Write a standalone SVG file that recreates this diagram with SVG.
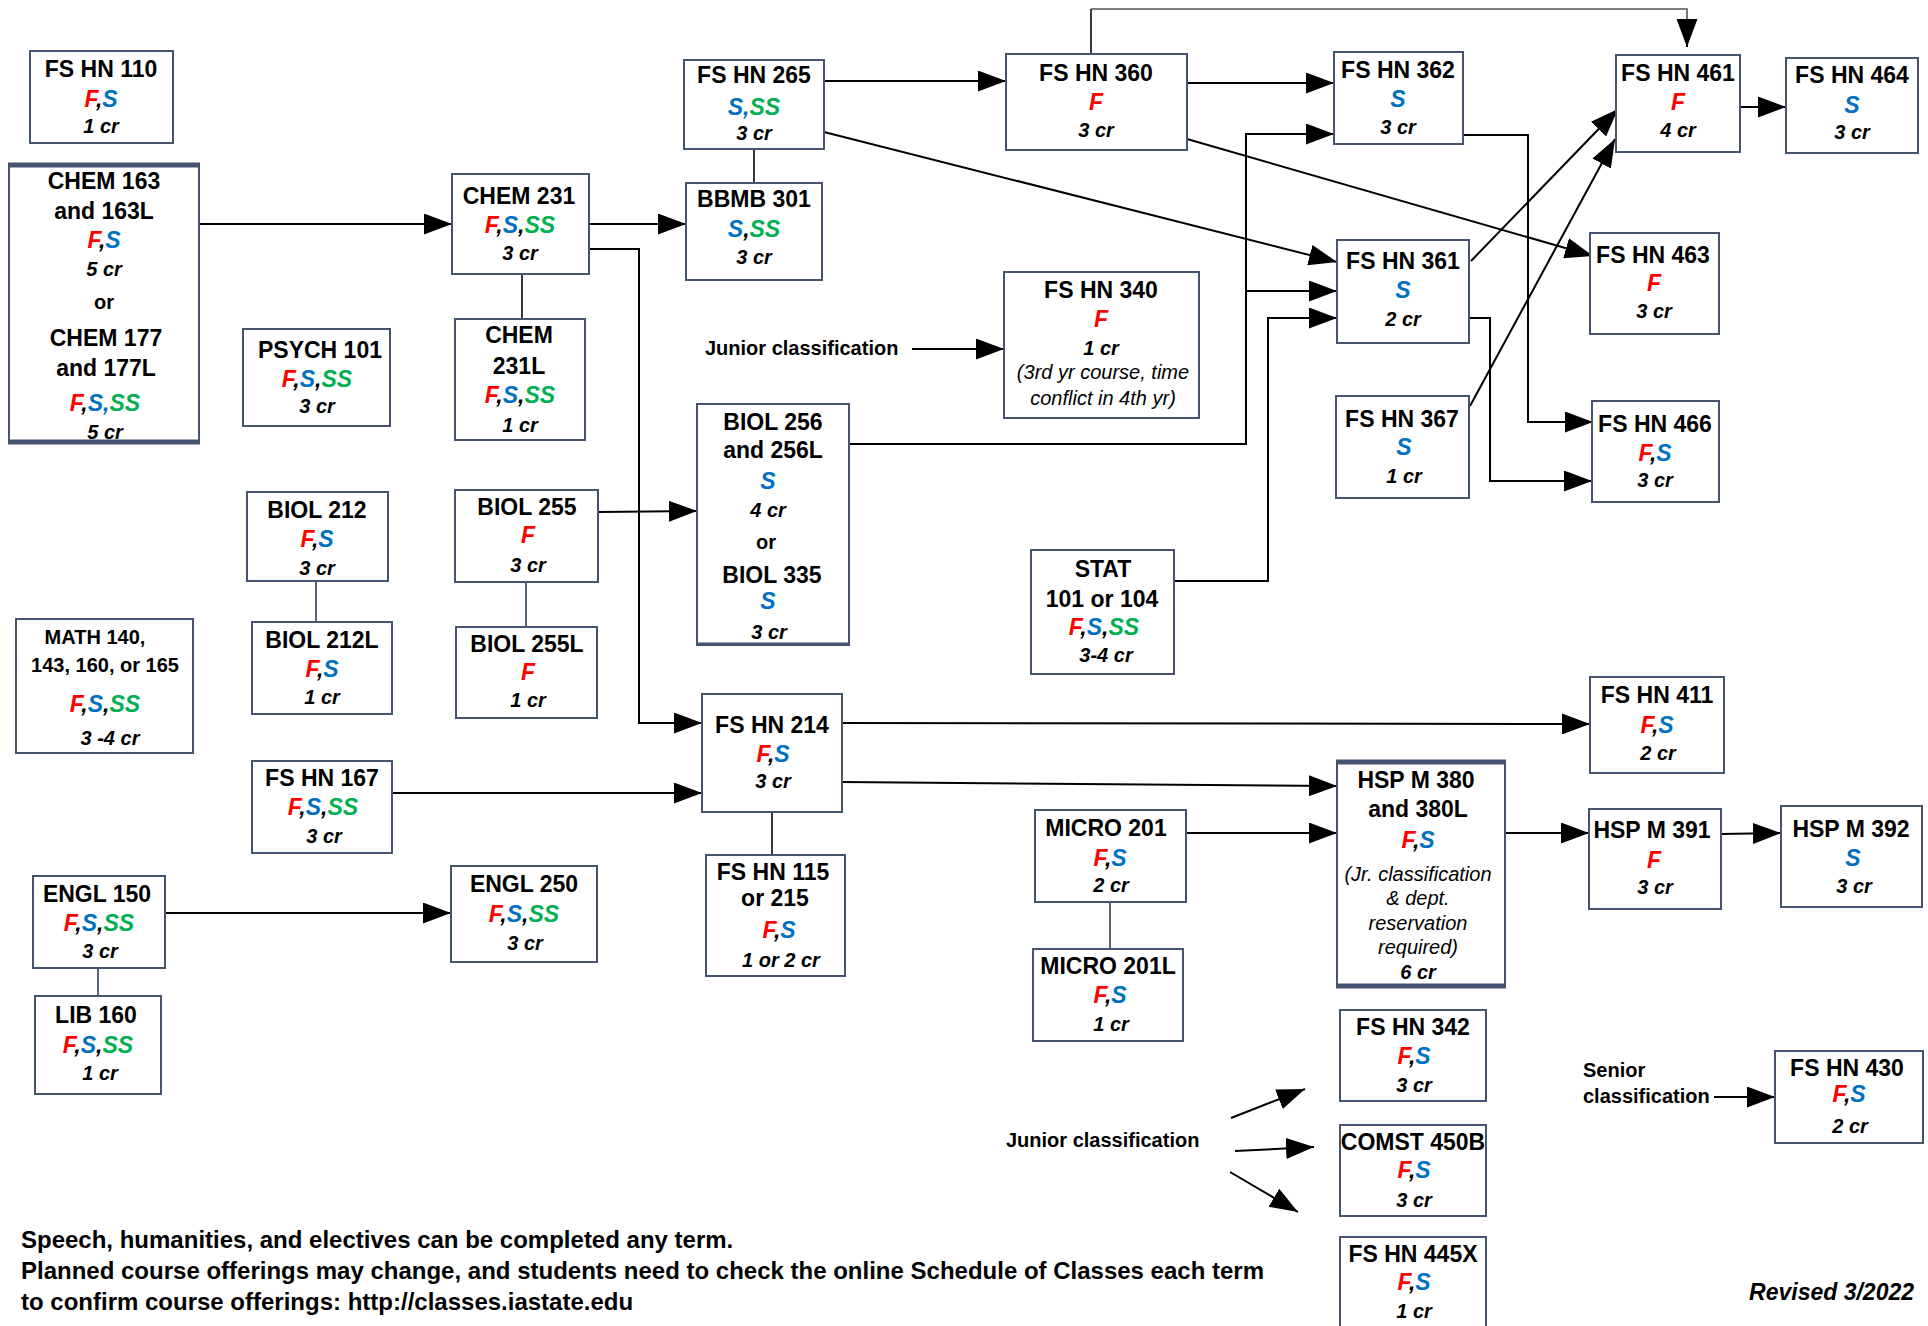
<svg xmlns="http://www.w3.org/2000/svg" width="1928" height="1326" viewBox="0 0 1928 1326">
<defs>
<marker id="ah" markerUnits="userSpaceOnUse" markerWidth="28" markerHeight="21" refX="28" refY="10.5" orient="auto" viewBox="0 0 28 21"><path d="M0,0 L28,10.5 L0,21 Z" fill="#000"/></marker>
<style>
text{font-family:"Liberation Sans",Arial,sans-serif;font-weight:bold;font-size:23px;text-anchor:middle;fill:#000}
.box{fill:#fff;stroke:#46546e;stroke-width:2}
.thick{stroke:#46546e;stroke-width:5;fill:none}
.fs{font-style:italic}
.cr{font-style:italic;font-size:20px}
.nt{font-style:italic;font-weight:normal;font-size:20px}
.sm{font-size:20px}
.lbl{font-size:20px;text-anchor:start}
.ft{font-size:24px;text-anchor:start}
.F{fill:#ff0000}.S{fill:#0070c0}.SS{fill:#00b050}
.con{stroke:#000;stroke-width:2;fill:none}
.arr{stroke:#000;stroke-width:2;fill:none;marker-end:url(#ah)}
.tie{stroke:#222;stroke-width:1.8;fill:none}
.gray{stroke:#555;stroke-width:1.6;fill:none}
</style>
</defs>

<g id="connectors">
<line class="arr" x1="199" y1="224" x2="452" y2="224"/>
<line class="arr" x1="589" y1="224" x2="686" y2="224"/>
<polyline class="arr" points="589,249 639,249 639,723 702,723"/>
<line class="tie" x1="754" y1="149" x2="754" y2="183"/>
<line class="tie" x1="522" y1="274" x2="522" y2="319"/>
<line class="arr" x1="824" y1="81" x2="1006" y2="81"/>
<line class="arr" x1="824" y1="132" x2="1337" y2="262"/>
<line class="arr" x1="1187" y1="83" x2="1334" y2="83"/>
<line class="arr" x1="1187" y1="139" x2="1593" y2="256"/>
<line class="tie" x1="1091" y1="54" x2="1091" y2="9"/>
<polyline class="gray" points="1091,9 1687,9 1687,30"/>
<line class="arr" x1="1687" y1="28" x2="1687" y2="47"/>
<polyline class="arr" points="849,444 1246,444 1246,134 1334,134"/>
<line class="arr" x1="1246" y1="291" x2="1337" y2="291"/>
<polyline class="arr" points="1174,581 1268,581 1268,318 1337,318"/>
<line class="arr" x1="912" y1="349" x2="1004" y2="349"/>
<polyline class="arr" points="1463,135 1528,135 1528,422 1593,422"/>
<polyline class="arr" points="1469,318 1490,318 1490,481 1592,481"/>
<line class="arr" x1="1471" y1="261" x2="1618" y2="109"/>
<line class="arr" x1="1470" y1="406" x2="1615" y2="139"/>
<line class="arr" x1="1740" y1="107" x2="1786" y2="107"/>
<line class="tie" x1="316" y1="581" x2="316" y2="622" style="stroke:#46546e"/>
<line class="tie" x1="526" y1="582" x2="526" y2="627" style="stroke:#46546e"/>
<line class="arr" x1="598" y1="512" x2="697" y2="511"/>
<line class="arr" x1="392" y1="793" x2="702" y2="793"/>
<line class="arr" x1="842" y1="723" x2="1590" y2="724"/>
<line class="arr" x1="842" y1="782" x2="1337" y2="786"/>
<line class="tie" x1="772" y1="812" x2="772" y2="855"/>
<line class="arr" x1="1186" y1="833" x2="1337" y2="833"/>
<line class="tie" x1="1110" y1="902" x2="1110" y2="949" style="stroke:#46546e"/>
<line class="arr" x1="1505" y1="833" x2="1589" y2="833"/>
<line class="arr" x1="1721" y1="834" x2="1781" y2="833"/>
<line class="arr" x1="165" y1="913" x2="451" y2="913"/>
<line class="tie" x1="98" y1="968" x2="98" y2="996" style="stroke:#46546e"/>
<line class="arr" x1="1231" y1="1118" x2="1305" y2="1089"/>
<line class="arr" x1="1235" y1="1151" x2="1314" y2="1147"/>
<line class="arr" x1="1230" y1="1172" x2="1298" y2="1212"/>
<line class="arr" x1="1714" y1="1097" x2="1775" y2="1097"/>
</g>

<g id="fshn110"><rect class="box" x="30" y="51" width="143" height="92"/>
<text x="101" y="77">FS HN 110</text>
<text class="fs" x="101" y="107"><tspan class="F">F</tspan>,<tspan class="S">S</tspan></text>
<text class="cr" x="101" y="133">1 cr</text></g>

<g id="chem163"><rect class="box" x="9" y="164" width="190" height="279"/>
<line class="thick" x1="8" y1="165" x2="200" y2="165"/><line class="thick" x1="8" y1="442" x2="200" y2="442"/>
<text x="104" y="189">CHEM 163</text>
<text x="104" y="219">and 163L</text>
<text class="fs" x="104" y="248"><tspan class="F">F</tspan>,<tspan class="S">S</tspan></text>
<text class="cr" x="104" y="276">5 cr</text>
<text class="sm" x="104" y="309">or</text>
<text x="106" y="346">CHEM 177</text>
<text x="106" y="376">and 177L</text>
<text class="fs" x="105" y="411"><tspan class="F">F</tspan>,<tspan class="S">S,</tspan><tspan class="SS">SS</tspan></text>
<text class="cr" x="105" y="439">5 cr</text></g>

<g id="psych101"><rect class="box" x="243" y="329" width="147" height="97"/>
<text x="320" y="358">PSYCH 101</text>
<text class="fs" x="317" y="387"><tspan class="F">F</tspan>,<tspan class="S">S</tspan>,<tspan class="SS">SS</tspan></text>
<text class="cr" x="317" y="413">3 cr</text></g>

<g id="chem231"><rect class="box" x="452" y="174" width="137" height="100"/>
<text x="519" y="204">CHEM 231</text>
<text class="fs" x="520" y="233"><tspan class="F">F</tspan>,<tspan class="S">S</tspan>,<tspan class="SS">SS</tspan></text>
<text class="cr" x="520" y="260">3 cr</text></g>

<g id="chem231l"><rect class="box" x="455" y="319" width="130" height="121"/>
<text x="519" y="343">CHEM</text>
<text x="519" y="374">231L</text>
<text class="fs" x="520" y="403"><tspan class="F">F</tspan>,<tspan class="S">S</tspan>,<tspan class="SS">SS</tspan></text>
<text class="cr" x="520" y="432">1 cr</text></g>

<g id="fshn265"><rect class="box" x="684" y="60" width="140" height="89"/>
<text x="754" y="83">FS HN 265</text>
<text class="fs" x="754" y="115"><tspan class="S">S,</tspan><tspan class="SS">SS</tspan></text>
<text class="cr" x="754" y="140">3 cr</text></g>

<g id="bbmb301"><rect class="box" x="686" y="183" width="136" height="97"/>
<text x="754" y="207">BBMB 301</text>
<text class="fs" x="754" y="237"><tspan class="S">S</tspan>,<tspan class="SS">SS</tspan></text>
<text class="cr" x="754" y="264">3 cr</text></g>

<g id="fshn360"><rect class="box" x="1006" y="54" width="181" height="96"/>
<text x="1096" y="81">FS HN 360</text>
<text class="fs" x="1096" y="110"><tspan class="F">F</tspan></text>
<text class="cr" x="1096" y="137">3 cr</text></g>

<g id="fshn362"><rect class="box" x="1334" y="52" width="129" height="92"/>
<text x="1398" y="78">FS HN 362</text>
<text class="fs" x="1398" y="107"><tspan class="S">S</tspan></text>
<text class="cr" x="1398" y="134">3 cr</text></g>

<g id="fshn461"><rect class="box" x="1616" y="55" width="124" height="97"/>
<text x="1678" y="81">FS HN 461</text>
<text class="fs" x="1678" y="110"><tspan class="F">F</tspan></text>
<text class="cr" x="1678" y="137">4 cr</text></g>

<g id="fshn464"><rect class="box" x="1786" y="58" width="132" height="95"/>
<text x="1852" y="83">FS HN 464</text>
<text class="fs" x="1852" y="113"><tspan class="S">S</tspan></text>
<text class="cr" x="1852" y="139">3 cr</text></g>

<g id="fshn361"><rect class="box" x="1337" y="240" width="132" height="103"/>
<text x="1403" y="269">FS HN 361</text>
<text class="fs" x="1403" y="298"><tspan class="S">S</tspan></text>
<text class="cr" x="1403" y="326">2 cr</text></g>

<g id="fshn463"><rect class="box" x="1590" y="233" width="129" height="101"/>
<text x="1653" y="263">FS HN 463</text>
<text class="fs" x="1654" y="291"><tspan class="F">F</tspan></text>
<text class="cr" x="1654" y="318">3 cr</text></g>

<g id="fshn340"><rect class="box" x="1004" y="272" width="195" height="146"/>
<text x="1101" y="298">FS HN 340</text>
<text class="fs" x="1101" y="327"><tspan class="F">F</tspan></text>
<text class="cr" x="1101" y="355">1 cr</text>
<text class="nt" x="1103" y="379">(3rd yr course, time</text>
<text class="nt" x="1103" y="405">conflict in 4th yr)</text></g>

<g id="fshn367"><rect class="box" x="1336" y="396" width="133" height="102"/>
<text x="1402" y="427">FS HN 367</text>
<text class="fs" x="1404" y="455"><tspan class="S">S</tspan></text>
<text class="cr" x="1404" y="483">1 cr</text></g>

<g id="fshn466"><rect class="box" x="1592" y="401" width="127" height="101"/>
<text x="1655" y="432">FS HN 466</text>
<text class="fs" x="1655" y="461"><tspan class="F">F</tspan>,<tspan class="S">S</tspan></text>
<text class="cr" x="1655" y="487">3 cr</text></g>

<g id="biol256"><rect class="box" x="697" y="404" width="152" height="241"/>
<line class="thick" x1="696" y1="644" x2="850" y2="644" style="stroke-width:3"/>
<text x="773" y="430">BIOL 256</text>
<text x="773" y="458">and 256L</text>
<text class="fs" x="768" y="489"><tspan class="S">S</tspan></text>
<text class="cr" x="768" y="517">4 cr</text>
<text class="sm" x="766" y="549">or</text>
<text x="772" y="583">BIOL 335</text>
<text class="fs" x="768" y="609"><tspan class="S">S</tspan></text>
<text class="cr" x="769" y="639">3 cr</text></g>

<g id="biol212"><rect class="box" x="247" y="492" width="141" height="89"/>
<text x="317" y="518">BIOL 212</text>
<text class="fs" x="317" y="547"><tspan class="F">F</tspan>,<tspan class="S">S</tspan></text>
<text class="cr" x="317" y="575">3 cr</text></g>

<g id="biol212l"><rect class="box" x="252" y="622" width="140" height="92"/>
<text x="322" y="648">BIOL 212L</text>
<text class="fs" x="322" y="677"><tspan class="F">F</tspan>,<tspan class="S">S</tspan></text>
<text class="cr" x="322" y="704">1 cr</text></g>

<g id="biol255"><rect class="box" x="455" y="490" width="143" height="92"/>
<text x="527" y="515">BIOL 255</text>
<text class="fs" x="528" y="543"><tspan class="F">F</tspan></text>
<text class="cr" x="528" y="572">3 cr</text></g>

<g id="biol255l"><rect class="box" x="456" y="627" width="141" height="91"/>
<text x="527" y="652">BIOL 255L</text>
<text class="fs" x="528" y="680"><tspan class="F">F</tspan></text>
<text class="cr" x="528" y="707">1 cr</text></g>

<g id="math"><rect class="box" x="16" y="619" width="177" height="134"/>
<text class="sm" x="95" y="644">MATH 140,</text>
<text class="sm" x="105" y="672">143, 160, or 165</text>
<text class="fs" x="105" y="712"><tspan class="F">F</tspan>,<tspan class="S">S</tspan>,<tspan class="SS">SS</tspan></text>
<text class="cr" x="110" y="745">3 -4 cr</text></g>

<g id="fshn167"><rect class="box" x="252" y="761" width="140" height="92"/>
<text x="322" y="786">FS HN 167</text>
<text class="fs" x="323" y="815"><tspan class="F">F</tspan>,<tspan class="S">S</tspan>,<tspan class="SS">SS</tspan></text>
<text class="cr" x="324" y="843">3 cr</text></g>

<g id="stat"><rect class="box" x="1031" y="550" width="143" height="124"/>
<text x="1103" y="577">STAT</text>
<text x="1102" y="607">101 or 104</text>
<text class="fs" x="1104" y="635"><tspan class="F">F</tspan>,<tspan class="S">S</tspan>,<tspan class="SS">SS</tspan></text>
<text class="cr" x="1106" y="662">3-4 cr</text></g>

<g id="fshn214"><rect class="box" x="702" y="694" width="140" height="118"/>
<text x="772" y="733">FS HN 214</text>
<text class="fs" x="773" y="762"><tspan class="F">F</tspan>,<tspan class="S">S</tspan></text>
<text class="cr" x="773" y="788">3 cr</text></g>

<g id="fshn411"><rect class="box" x="1590" y="677" width="134" height="96"/>
<text x="1657" y="703">FS HN 411</text>
<text class="fs" x="1657" y="733"><tspan class="F">F</tspan>,<tspan class="S">S</tspan></text>
<text class="cr" x="1658" y="760">2 cr</text></g>

<g id="hspm380"><rect class="box" x="1337" y="761" width="168" height="226"/>
<line class="thick" x1="1336" y1="762" x2="1506" y2="762"/><line class="thick" x1="1336" y1="986" x2="1506" y2="986"/>
<text x="1416" y="788">HSP M 380</text>
<text x="1418" y="817">and 380L</text>
<text class="fs" x="1418" y="848"><tspan class="F">F</tspan>,<tspan class="S">S</tspan></text>
<text class="nt" x="1418" y="881">(Jr. classification</text>
<text class="nt" x="1418" y="905">&amp; dept.</text>
<text class="nt" x="1418" y="930">reservation</text>
<text class="nt" x="1418" y="954">required)</text>
<text class="cr" x="1418" y="979">6 cr</text></g>

<g id="hspm391"><rect class="box" x="1589" y="809" width="132" height="100"/>
<text x="1652" y="838">HSP M 391</text>
<text class="fs" x="1654" y="868"><tspan class="F">F</tspan></text>
<text class="cr" x="1655" y="894">3 cr</text></g>

<g id="hspm392"><rect class="box" x="1781" y="806" width="141" height="101"/>
<text x="1851" y="837">HSP M 392</text>
<text class="fs" x="1853" y="866"><tspan class="S">S</tspan></text>
<text class="cr" x="1854" y="893">3 cr</text></g>

<g id="micro201"><rect class="box" x="1035" y="810" width="151" height="92"/>
<text x="1106" y="836">MICRO 201</text>
<text class="fs" x="1110" y="866"><tspan class="F">F</tspan>,<tspan class="S">S</tspan></text>
<text class="cr" x="1111" y="892">2 cr</text></g>

<g id="micro201l"><rect class="box" x="1033" y="949" width="150" height="92"/>
<text x="1108" y="974">MICRO 201L</text>
<text class="fs" x="1110" y="1003"><tspan class="F">F</tspan>,<tspan class="S">S</tspan></text>
<text class="cr" x="1111" y="1031">1 cr</text></g>

<g id="fshn115"><rect class="box" x="706" y="855" width="139" height="121"/>
<text x="773" y="880">FS HN 115</text>
<text x="775" y="906">or 215</text>
<text class="fs" x="779" y="938"><tspan class="F">F</tspan>,<tspan class="S">S</tspan></text>
<text class="cr" x="781" y="967">1 or 2 cr</text></g>

<g id="engl150"><rect class="box" x="33" y="876" width="132" height="92"/>
<text x="97" y="902">ENGL 150</text>
<text class="fs" x="99" y="931"><tspan class="F">F</tspan>,<tspan class="S">S</tspan>,<tspan class="SS">SS</tspan></text>
<text class="cr" x="100" y="958">3 cr</text></g>

<g id="engl250"><rect class="box" x="451" y="866" width="146" height="96"/>
<text x="524" y="892">ENGL 250</text>
<text class="fs" x="524" y="922"><tspan class="F">F</tspan>,<tspan class="S">S</tspan>,<tspan class="SS">SS</tspan></text>
<text class="cr" x="525" y="950">3 cr</text></g>

<g id="lib160"><rect class="box" x="35" y="996" width="126" height="98"/>
<text x="96" y="1023">LIB 160</text>
<text class="fs" x="98" y="1053"><tspan class="F">F</tspan>,<tspan class="S">S</tspan>,<tspan class="SS">SS</tspan></text>
<text class="cr" x="100" y="1080">1 cr</text></g>

<g id="fshn342"><rect class="box" x="1340" y="1010" width="146" height="91"/>
<text x="1413" y="1035">FS HN 342</text>
<text class="fs" x="1414" y="1064"><tspan class="F">F</tspan>,<tspan class="S">S</tspan></text>
<text class="cr" x="1414" y="1092">3 cr</text></g>

<g id="comst450b"><rect class="box" x="1340" y="1125" width="146" height="91"/>
<text x="1413" y="1150">COMST 450B</text>
<text class="fs" x="1414" y="1178"><tspan class="F">F</tspan>,<tspan class="S">S</tspan></text>
<text class="cr" x="1414" y="1207">3 cr</text></g>

<g id="fshn445x"><rect class="box" x="1340" y="1237" width="146" height="95"/>
<text x="1413" y="1262">FS HN 445X</text>
<text class="fs" x="1414" y="1290"><tspan class="F">F</tspan>,<tspan class="S">S</tspan></text>
<text class="cr" x="1414" y="1318">1 cr</text></g>

<g id="fshn430"><rect class="box" x="1775" y="1051" width="148" height="92"/>
<text x="1847" y="1076">FS HN 430</text>
<text class="fs" x="1849" y="1102"><tspan class="F">F</tspan>,<tspan class="S">S</tspan></text>
<text class="cr" x="1850" y="1133">2 cr</text></g>

<g id="labels">
<text class="lbl" x="705" y="355">Junior classification</text>
<text class="lbl" x="1006" y="1147">Junior classification</text>
<text class="lbl" x="1583" y="1077">Senior</text>
<text class="lbl" x="1583" y="1103">classification</text>
<text class="ft" x="21" y="1248">Speech, humanities, and electives can be completed any term.</text>
<text class="ft" x="21" y="1279">Planned course offerings may change, and students need to check the online Schedule of Classes each term</text>
<text class="ft" x="21" y="1310">to confirm course offerings: http://classes.iastate.edu</text>
<text class="fs" x="1914" y="1300" style="text-anchor:end">Revised 3/2022</text>
</g>
</svg>
